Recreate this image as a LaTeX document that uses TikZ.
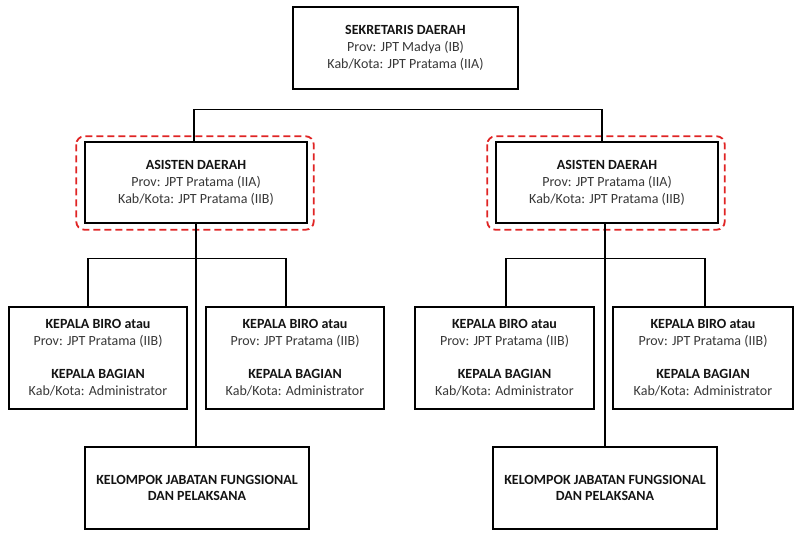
\documentclass[tikz,border=0pt]{standalone}
\usepackage{fontspec}
\setmainfont{Carlito}
\definecolor{txtgray}{HTML}{383838}
\definecolor{txtbold}{HTML}{141414}
\definecolor{dashred}{HTML}{E02424}
\newcommand{\hd}[1]{{\bfseries\color{txtbold}#1}}
\begin{document}
\begin{tikzpicture}[x=1pt,y=1pt,
  box/.style={draw=black,line width=1.4pt,inner sep=0pt,align=center,
    font=\fontsize{14}{17}\selectfont,text=txtgray},
  conn/.style={draw=black,line width=1.2pt},
  hilite/.style={draw=dashred,line width=1.8pt,dash pattern=on 7pt off 4pt,rounded corners=8pt}]
\useasboundingbox (0,0) rectangle (804,542);
\fill[white] (0,0) rectangle (804,542);

\node[box,minimum width=225,minimum height=82] (sek) at (405.5,494)
  {\hd{SEKRETARIS DAERAH}\\Prov: JPT Madya (IB)\\Kab/Kota: JPT Pratama (IIA)};

\node[box,minimum width=222,minimum height=81] (asL) at (196,359.5)
  {\hd{ASISTEN DAERAH}\\Prov: JPT Pratama (IIA)\\Kab/Kota: JPT Pratama (IIB)};
\node[box,minimum width=222,minimum height=81] (asR) at (607,359.5)
  {\hd{ASISTEN DAERAH}\\Prov: JPT Pratama (IIA)\\Kab/Kota: JPT Pratama (IIB)};

\draw[hilite] ([xshift=-8pt,yshift=5pt]asL.north west) rectangle ([xshift=6pt,yshift=-6pt]asL.south east);
\draw[hilite] ([xshift=-8pt,yshift=5pt]asR.north west) rectangle ([xshift=6pt,yshift=-6pt]asR.south east);

\node[box,minimum width=178,minimum height=102] (kL1) at (98,184)
  {\hd{KEPALA BIRO atau}\\Prov: JPT Pratama (IIB)\\[16pt]\hd{KEPALA BAGIAN}\\Kab/Kota: Administrator};
\node[box,minimum width=178,minimum height=102] (kL2) at (295,184)
  {\hd{KEPALA BIRO atau}\\Prov: JPT Pratama (IIB)\\[16pt]\hd{KEPALA BAGIAN}\\Kab/Kota: Administrator};
\node[box,minimum width=179,minimum height=102] (kR1) at (504.5,184)
  {\hd{KEPALA BIRO atau}\\Prov: JPT Pratama (IIB)\\[16pt]\hd{KEPALA BAGIAN}\\Kab/Kota: Administrator};
\node[box,minimum width=180,minimum height=102] (kR2) at (703,184)
  {\hd{KEPALA BIRO atau}\\Prov: JPT Pratama (IIB)\\[16pt]\hd{KEPALA BAGIAN}\\Kab/Kota: Administrator};

\node[box,minimum width=224,minimum height=82,font=\fontsize{14}{15.5}\selectfont] (kelL) at (197,54)
  {\hd{KELOMPOK JABATAN FUNGSIONAL}\\\hd{DAN PELAKSANA}};
\node[box,minimum width=224,minimum height=82,font=\fontsize{14}{15.5}\selectfont] (kelR) at (605,54)
  {\hd{KELOMPOK JABATAN FUNGSIONAL}\\\hd{DAN PELAKSANA}};

% top branch
\draw[conn] ([xshift=-2pt]asL.north) -- ++(0,32) -| ([xshift=-5pt]asR.north);
% left branch
\draw[conn] (asL.south) -- (asL.south |- kelL.north);
\draw[conn] ([xshift=-10pt]kL1.north) -- ++(0,47.5) -| ([xshift=-9pt]kL2.north);
% right branch
\draw[conn] ([xshift=-2pt]asR.south) -- ([xshift=-2pt]asR.south |- kelR.north);
\draw[conn] ([xshift=1.5pt]kR1.north) -- ++(0,47.5) -| ([xshift=2pt]kR2.north);
\end{tikzpicture}
\end{document}
